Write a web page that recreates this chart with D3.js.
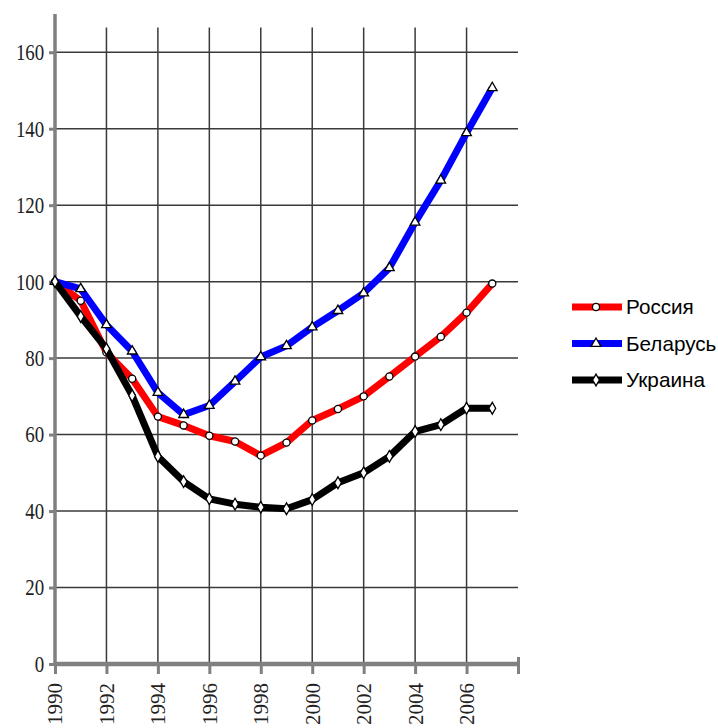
<!doctype html>
<html>
    <head>
        <meta charset="utf-8">
        <title>index 1990 = 100</title>
        <script src="https://d3js.org/d3.v7.min.js"></script>
        <style type="text/css">
            body { margin:0; background:#fff; }
            .axis text { font-family:'Liberation Serif', 'DejaVu Serif', serif; font-size:21px; fill:#222; }
            .legend text { font-family:'Liberation Sans', Arial, sans-serif; font-size:21px; fill:#000; }
        </style>
    </head>
    <body>
        <svg></svg>
        <script type="text/javascript">

            var w = 718,
                h = 728;

            var years = d3.range(1990, 2008);

            var russia  = [100, 95, 81.5, 74.6, 64.7, 62.4, 59.7, 58.2, 54.5, 57.9, 63.7, 66.7, 70, 75.2, 80.4, 85.6, 91.9, 99.5];
            var belarus = [100, 98.1, 88.7, 81.8, 71, 65.2, 67.6, 73.9, 80.3, 83.2, 88.1, 92.4, 97, 103.6, 115.5, 126.5, 138.9, 150.7];
            var ukraine = [100, 90.9, 82.4, 70.2, 54.3, 47.7, 43.2, 41.8, 41, 40.6, 43, 47.4, 50, 54.3, 60.8, 62.6, 66.9, 66.9];

            var yTicks = [0, 20, 40, 60, 80, 100, 120, 140, 160];
            var xTicks = [1990, 1992, 1994, 1996, 1998, 2000, 2002, 2004, 2006];

            var series = [
                { name: 'Россия',   values: russia,  color: '#ff0000', symbol: d3.symbolCircle },
                { name: 'Беларусь', values: belarus, color: '#0000ff', symbol: d3.symbolTriangle },
                { name: 'Украина',  values: ukraine, color: '#000000', symbol: d3.symbolDiamond }
            ];

            var padLeft = 55, padRight = 518, padTop = 14, padBottom = 664;

            var xScale = d3.scaleLinear()
                .domain([1990, 2008])
                .range([padLeft, padRight]);

            var yScale = d3.scaleLinear()
                .domain([0, 170])
                .range([padBottom, padTop]);

            var svg = d3.select('svg')
                .attr('width', w)
                .attr('height', h);

            // grid
            svg.append('g')
                .selectAll('line')
                .data(yTicks.slice(1))
                .enter()
                .append('line')
                .attr('x1', padLeft).attr('x2', padRight)
                .attr('y1', function(d){ return yScale(d); })
                .attr('y2', function(d){ return yScale(d); })
                .attr('stroke', '#3a3a3a')
                .attr('stroke-width', 1.5);

            svg.append('g')
                .selectAll('line')
                .data(xTicks.slice(1))
                .enter()
                .append('line')
                .attr('x1', function(d){ return xScale(d); })
                .attr('x2', function(d){ return xScale(d); })
                .attr('y1', yScale(166.5))
                .attr('y2', padBottom)
                .attr('stroke', '#3a3a3a')
                .attr('stroke-width', 1.5);

            // axes
            var yAxis = d3.axisLeft(yScale)
                .tickValues(yTicks)
                .tickSize(6)
                .tickPadding(5)
                .tickFormat(d3.format('d'));

            var gy = svg.append('g')
                .attr('class', 'axis')
                .attr('transform', 'translate(' + padLeft + ',0)')
                .call(yAxis);
            gy.select('.domain').attr('stroke', '#808080').attr('stroke-width', 3.5)
                .attr('d', 'M0,' + padBottom + 'V' + padTop);
            gy.selectAll('.tick line').attr('stroke', '#808080').attr('stroke-width', 3);
            gy.selectAll('.tick text')
                .attr('transform', function(){ return 'scale(0.9,1.1)'; })
                .attr('x', -12);

            var xAxis = d3.axisBottom(xScale)
                .tickValues(xTicks.concat([2008]))
                .tickSize(10)
                .tickFormat(function(d){ return d === 2008 ? '' : d; });

            var gx = svg.append('g')
                .attr('class', 'axis')
                .attr('transform', 'translate(0,' + padBottom + ')')
                .call(xAxis);
            gx.select('.domain').attr('stroke', '#808080').attr('stroke-width', 4.5)
                .attr('d', 'M' + padLeft + ',0H' + padRight);
            gx.selectAll('.tick line').attr('stroke', '#808080').attr('stroke-width', 3);
            gx.selectAll('.tick')
                .filter(function(d){ return d === 2008; })
                .select('line').attr('y1', -7);
            gx.selectAll('.tick text')
                .attr('text-anchor', 'end')
                .attr('y', 0)
                .attr('dy', '0.33em')
                .attr('transform', 'translate(0,19) rotate(-90)');

            // lines
            var line = d3.line()
                .x(function(d, i){ return xScale(years[i]); })
                .y(function(d){ return yScale(d); });

            var groups = svg.selectAll('g.series')
                .data(series)
                .enter()
                .append('g')
                .attr('class', 'series');

            groups.append('path')
                .attr('d', function(d){ return line(d.values); })
                .attr('fill', 'none')
                .attr('stroke', function(d){ return d.color; })
                .attr('stroke-width', 7)
                .attr('stroke-linejoin', 'round');

            groups.each(function(s){
                d3.select(this).selectAll('path.mark')
                    .data(s.values)
                    .enter()
                    .append('path')
                    .attr('class', 'mark')
                    .attr('d', d3.symbol().type(s.symbol).size(40))
                    .attr('transform', function(d, i){
                        return 'translate(' + xScale(years[i]) + ',' + yScale(d) + ')';
                    })
                    .attr('fill', '#fff')
                    .attr('stroke', '#000')
                    .attr('stroke-width', 1.3);
            });

            // legend
            var legend = svg.append('g')
                .attr('class', 'legend')
                .attr('transform', 'translate(572,307)');

            var items = legend.selectAll('g')
                .data(series)
                .enter()
                .append('g')
                .attr('transform', function(d, i){ return 'translate(0,' + (i * 36.5) + ')'; });

            items.append('line')
                .attr('x1', 0).attr('x2', 50)
                .attr('stroke', function(d){ return d.color; })
                .attr('stroke-width', 7);

            items.append('path')
                .attr('d', function(d){ return d3.symbol().type(d.symbol).size(40)(); })
                .attr('transform', 'translate(24,0)')
                .attr('fill', '#fff')
                .attr('stroke', '#000')
                .attr('stroke-width', 1.3);

            items.append('text')
                .text(function(d){ return d.name; })
                .attr('x', 54)
                .attr('dy', '0.35em')
                .attr('textLength', function(d){ return d.name.length * 11.3; })
                .attr('lengthAdjust', 'spacingAndGlyphs');
        </script>
    </body>
</html>
